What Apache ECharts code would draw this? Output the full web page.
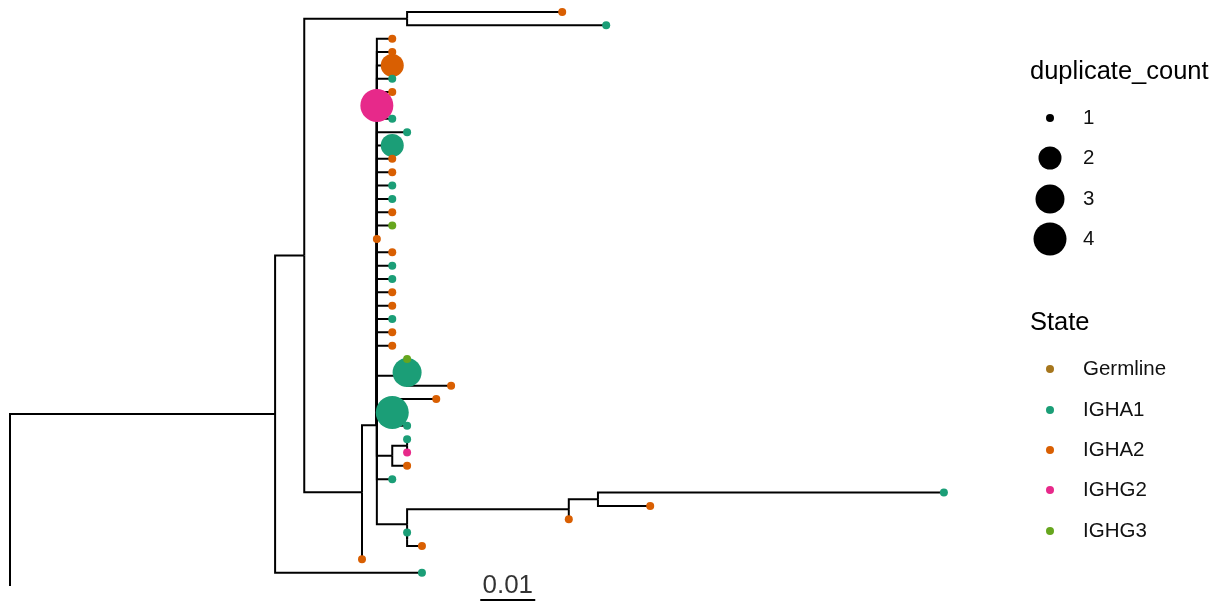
<!DOCTYPE html>
<html>
<head>
<meta charset="utf-8">
<script src="https://cdn.jsdelivr.net/npm/echarts@6/dist/echarts.min.js"></script>
<style>
html, body { margin: 0; padding: 0; background: #fff; }
#chart { width: 1225px; height: 603px; }
</style>
</head>
<body>
<div id="chart"></div>
<script>
// tips, top to bottom (row = index + 1)
const tipDist = [
  0.1004, 0.1084, 0.0695, 0.0695, 0.0695, 0.0695, 0.0695, 0.0667, 0.0695, 0.0722,
  0.0695, 0.0695, 0.0695, 0.0695, 0.0695, 0.0695, 0.0695, 0.0667, 0.0695, 0.0695,
  0.0695, 0.0695, 0.0695, 0.0695, 0.0695, 0.0695, 0.0722, 0.0722, 0.0802, 0.0775,
  0.0695, 0.0722, 0.0722, 0.0722, 0.0722, 0.0695, 0.1698, 0.1164, 0.1016, 0.0722,
  0.0749, 0.0640, 0.0749, 0
]
const tipState = [
  'IGHA2', 'IGHA1', 'IGHA2', 'IGHA2', 'IGHA2', 'IGHA1', 'IGHA2', 'IGHG2', 'IGHA1', 'IGHA1',
  'IGHA1', 'IGHA2', 'IGHA2', 'IGHA1', 'IGHA1', 'IGHA2', 'IGHG3', 'IGHA2', 'IGHA2', 'IGHA1',
  'IGHA1', 'IGHA2', 'IGHA2', 'IGHA1', 'IGHA2', 'IGHA2', 'IGHG3', 'IGHA1', 'IGHA2', 'IGHA2',
  'IGHA1', 'IGHA1', 'IGHA1', 'IGHG2', 'IGHA2', 'IGHA1', 'IGHA1', 'IGHA2', 'IGHA2', 'IGHA1',
  'IGHA2', 'IGHA2', 'IGHA1', 'Germline'
]
const tipDup = [
  1, 1, 1, 1, 2, 1, 1, 4, 1, 1,
  2, 1, 1, 1, 1, 1, 1, 1, 1, 1,
  1, 1, 1, 1, 1, 1, 1, 3, 1, 1,
  4, 1, 1, 1, 1, 1, 1, 1, 1, 1,
  1, 1, 1, 1
]
const tipParent = [
  'C', 'C', 'E', 'E', 'E', 'E', 'E', 'E', 'E', 'E',
  'E', 'E', 'E', 'E', 'E', 'E', 'E', 'E', 'E', 'E',
  'E', 'E', 'E', 'E', 'E', 'E', 'L', 'L', 'K', 'M',
  'M', 'M', 'N', 'N', 'O', 'E', 'H', 'H', 'G', 'J',
  'J', 'D', 'A', 'root'
]

// internal nodes
const nodeNames = ['root', 'A', 'B', 'C', 'D', 'E', 'K', 'L', 'M', 'O', 'N', 'F', 'G', 'H', 'J']
const nodeDist = [0, 0.0482, 0.0535, 0.0722, 0.0640, 0.0667, 0.0722, 0.0722, 0.0695, 0.0695, 0.0722, 0.0722, 0.1016, 0.1069, 0.0722]
const nodeRow = [37.56, 31.12, 19.24, 1.5, 36.97, 31.95, 28.25, 27.5, 31, 34.25, 33.5, 39.375, 38.25, 37.5, 40.5]
const nodeParent = [null, 'root', 'A', 'B', 'B', 'D', 'E', 'K', 'E', 'E', 'O', 'E', 'F', 'G', 'F']

const states = ['Germline', 'IGHA1', 'IGHA2', 'IGHG2', 'IGHG3']
const stateColors = ['#A6761D', '#1B9E77', '#D95F02', '#E7298A', '#66A61E']
const dupLevels = [1, 2, 3, 4]
const dupSizes = [8, 23, 29, 33]

const scaleWidth = 0.01
const scaleStart = 0.0855
const scaleRow = 45.04

const colorOf = s => stateColors[states.indexOf(s)]
const sizeOf = d => dupSizes[dupLevels.indexOf(d)]

// build branches (elbow shape)
const nodeIdx = {}
nodeNames.forEach((n, i) => { nodeIdx[n] = i })
const branches = []
function addBranch(parent, dist, row) {
  const p = nodeIdx[parent]
  branches.push({
    coords: [[nodeDist[p], nodeRow[p]], [nodeDist[p], row], [dist, row]]
  })
}
nodeNames.forEach((n, i) => {
  if (nodeParent[i]) addBranch(nodeParent[i], nodeDist[i], nodeRow[i])
})
tipDist.forEach((d, i) => addBranch(tipParent[i], d, i + 1))

const tipPoints = []
tipDist.forEach((d, i) => {
  if (tipState[i] === 'Germline') return
  tipPoints.push({ value: [d, i + 1, tipDup[i]], itemStyle: { color: colorOf(tipState[i]) } })
})
// bigger circles first, small ones on top
tipPoints.sort((a, b) => b.value[2] - a.value[2])

const font = 'Liberation Sans, Arial, Helvetica, sans-serif'
const graphics = []
graphics.push({ type: 'text', left: 1030, top: 59, style: { text: 'duplicate_count', fontSize: 25.5, fontFamily: font, fill: '#000' } })
const dupY = [118, 158, 199, 239]
dupLevels.forEach((d, i) => {
  graphics.push({ type: 'circle', shape: { cx: 1050, cy: dupY[i], r: sizeOf(d) / 2 }, style: { fill: '#000' } })
  graphics.push({ type: 'text', x: 1083, y: dupY[i], style: { text: String(d), fontSize: 20.5, fontFamily: font, fill: '#111', verticalAlign: 'middle' } })
})
graphics.push({ type: 'text', left: 1030, top: 310, style: { text: 'State', fontSize: 25.5, fontFamily: font, fill: '#000' } })
const stateY = [369, 410, 450, 490, 531]
states.forEach((s, i) => {
  graphics.push({ type: 'circle', shape: { cx: 1050, cy: stateY[i], r: 4 }, style: { fill: stateColors[i] } })
  graphics.push({ type: 'text', x: 1083, y: stateY[i], style: { text: s, fontSize: 20.5, fontFamily: font, fill: '#111', verticalAlign: 'middle' } })
})

const chart = echarts.init(document.getElementById('chart'))
chart.setOption({
  animation: false,
  grid: { left: 10, top: 12, width: 935, height: 574 },
  xAxis: { type: 'value', min: 0, max: 0.17, show: false },
  yAxis: { type: 'value', min: 1, max: 44, inverse: true, show: false },
  graphic: graphics,
  series: [
    {
      type: 'lines',
      coordinateSystem: 'cartesian2d',
      polyline: true,
      silent: true,
      lineStyle: { color: '#000', width: 2, opacity: 1 },
      data: branches,
      z: 1
    },
    {
      type: 'scatter',
      data: tipPoints,
      symbolSize: v => sizeOf(v[2]),
      itemStyle: { opacity: 1 },
      z: 2
    },
    {
      type: 'line',
      clip: false,
      symbol: 'none',
      lineStyle: { color: '#000', width: 2 },
      data: [[scaleStart, scaleRow], [scaleStart + scaleWidth, scaleRow]],
      z: 2
    },
    {
      type: 'scatter',
      clip: false,
      symbolSize: 1,
      itemStyle: { color: 'transparent' },
      label: {
        show: true,
        position: 'inside',
        formatter: String(scaleWidth),
        fontSize: 26,
        fontFamily: font,
        color: '#000'
      },
      data: [[scaleStart + scaleWidth / 2, 43.95]],
      z: 2
    }
  ]
})
</script>
</body>
</html>
